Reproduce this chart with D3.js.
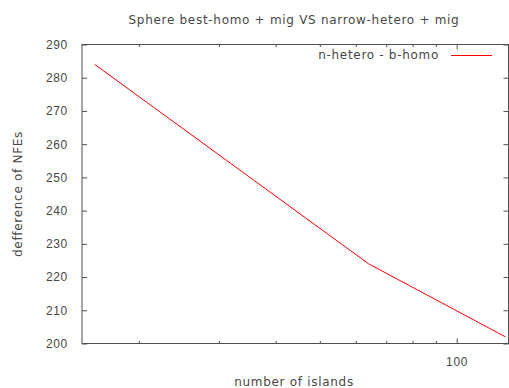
<!DOCTYPE html>
<html>
<head>
<meta charset="utf-8">
<script src="https://cdn.jsdelivr.net/npm/d3@7"></script>
<style>
  body { margin: 0; background: #fff; }
  svg { display: block; font-family: "DejaVu Sans", sans-serif; }
  text { letter-spacing: 0.7px; }
  .tick text { fill: #474747; font-size: 12px; }
  .tick line { stroke: #505050; }
  .domain { display: none; }
</style>
</head>
<body>
<svg></svg>
<script>
let width = 509;
let height = 388;

// data
let islands = [16, 32, 64, 128];
let nfeDiff = [284, 254, 224, 202];
let yTicks = [200, 210, 220, 230, 240, 250, 260, 270, 280, 290];
let xMajor = [100];
let xMinor = [20, 30, 40, 50, 60, 70, 80, 90];

let plotLeft = 82;
let plotRight = 508.5;
let plotTop = 44.5;
let plotBottom = 343.5;

const svg = d3.select("svg")
  .attr("width", width)
  .attr("height", height);

const xScale = d3.scaleLog()
  .domain([15, 130])
  .range([plotLeft, plotRight]);
const yScale = d3.scaleLinear()
  .domain([200, 290])
  .range([plotBottom, plotTop]);

//axes, gnuplot style with mirrored ticks
svg.append("g")
  .attr("transform", `translate(${plotLeft},0)`)
  .call(d3.axisLeft(yScale).tickValues(yTicks).tickSize(-5).tickPadding(14).tickFormat(d3.format("d")));
svg.append("g")
  .attr("transform", `translate(${plotRight},0)`)
  .call(d3.axisRight(yScale).tickValues(yTicks).tickSize(-5).tickFormat(""));

svg.append("g")
  .attr("transform", `translate(0,${plotBottom})`)
  .call(d3.axisBottom(xScale).tickValues(xMajor).tickSize(-5).tickPadding(14).tickFormat(d3.format("d")));
svg.append("g")
  .attr("transform", `translate(0,${plotBottom})`)
  .call(d3.axisBottom(xScale).tickValues(xMinor).tickSize(-2.5).tickFormat(""));
svg.append("g")
  .attr("transform", `translate(0,${plotTop})`)
  .call(d3.axisTop(xScale).tickValues(xMajor).tickSize(-5).tickFormat(""));
svg.append("g")
  .attr("transform", `translate(0,${plotTop})`)
  .call(d3.axisTop(xScale).tickValues(xMinor).tickSize(-2.5).tickFormat(""));

//border
svg.append("rect")
  .attr("x", plotLeft)
  .attr("y", plotTop)
  .attr("width", plotRight - plotLeft)
  .attr("height", plotBottom - plotTop)
  .attr("fill", "none")
  .attr("stroke", "#505050")
  .attr("stroke-width", 1);

//line
const line = d3.line()
  .x((d, i) => xScale(islands[i]))
  .y((d) => yScale(d));
svg.append("path")
  .datum(nfeDiff)
  .attr("d", line)
  .attr("fill", "none")
  .attr("stroke", "#ff0000")
  .attr("stroke-width", 1);

//legend
svg.append("text")
  .attr("x", 439)
  .attr("y", 59)
  .attr("text-anchor", "end")
  .attr("font-size", 12)
  .attr("fill", "#474747")
  .text("n-hetero - b-homo");
svg.append("line")
  .attr("x1", 451)
  .attr("x2", 492)
  .attr("y1", 55.5)
  .attr("y2", 55.5)
  .attr("stroke", "#ff0000");

//titles
svg.append("text")
  .attr("x", 294)
  .attr("y", 24)
  .attr("text-anchor", "middle")
  .attr("font-size", 12)
  .attr("fill", "#474747")
  .text("Sphere best-homo + mig VS narrow-hetero + mig");
svg.append("text")
  .attr("x", 294)
  .attr("y", 386)
  .attr("text-anchor", "middle")
  .attr("font-size", 12)
  .attr("fill", "#474747")
  .text("number of islands");
svg.append("text")
  .attr("transform", "translate(22,194) rotate(-90)")
  .attr("text-anchor", "middle")
  .attr("font-size", 12)
  .attr("fill", "#474747")
  .text("defference of NFEs");
</script>
</body>
</html>
